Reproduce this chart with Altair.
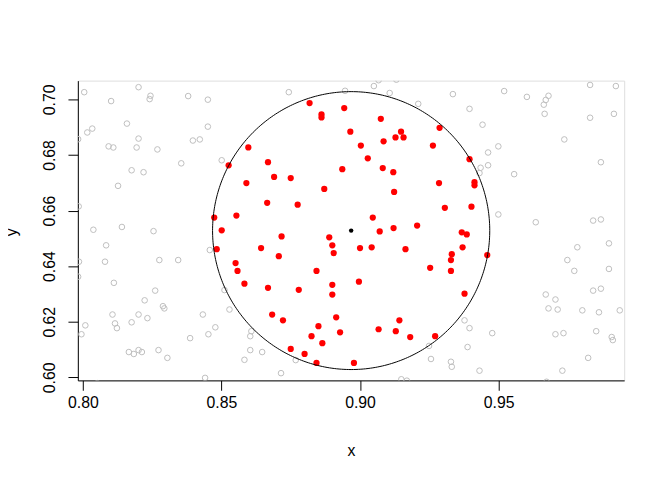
import altair as alt
import pandas as pd

# grey open circles (all points)
grey_x = [0.8005,0.8201,0.8102,0.8244,0.8241,0.8380,0.8451,0.8159,0.8034,0.8016,0.8451,0.7983,0.8201,0.8397,0.8422,0.8093,0.8110,0.8194,0.8269,0.8355,0.8176,0.8219,0.8127,0.7985,0.8038,0.8141,0.8255,
          0.8084,0.8458,0.7986,0.8080,0.8276,0.8344,0.7983,0.8112,0.8261,0.8223,0.8289,0.8294,0.8107,0.8201,0.8233,0.8433,0.8009,0.8116,0.8123,0.8176,0.7995,0.8478,0.8453,0.8387,0.8166,0.8184,0.8201,0.8213,0.8273,0.8305,0.8441,0.8052,
          0.8511,0.8529,0.8608,0.8604,0.8604,0.8647,0.8583,0.8768,0.8715,
          0.8743,0.8946,0.8501,
          0.9050,0.9067,0.9131,0.9107,0.9335,0.9210,0.9395,0.9442,0.9462,0.9462,0.9435,0.9431,
          0.9377,0.9395,0.9477,0.9249,0.9388,0.9256,0.9328,0.9331,0.9431,0.9149,0.9169,
          0.9520,0.9602,0.9680,0.9670,0.9663,0.9666,0.9830,0.9923,0.9830,0.9916,0.9737,0.9499,0.9869,0.9556,0.9499,0.9634,0.9841,0.9869,
          0.9784,0.9898,0.9748,0.9773,0.9898,0.9841,0.9869,0.9670,0.9705,0.9680,0.9713,0.9802,0.9862,0.9937,0.9705,0.9734,0.9852,0.9908,0.9912,0.9823,0.9730,0.9673]
grey_y = [0.7026,0.7044,0.6994,0.7013,0.7001,0.7012,0.6999,0.6913,0.6895,0.6881,0.6902,0.6857,0.6859,0.6852,0.6856,0.6831,0.6827,0.6827,0.6820,0.6770,0.6745,0.6738,0.6689,0.6615,0.6531,0.6541,0.6526,
          0.6475,0.6458,0.6416,0.6416,0.6422,0.6422,0.6362,0.6340,0.6312,0.6277,0.6256,0.6248,0.6226,0.6226,0.6213,0.6226,0.6187,0.6194,0.6177,0.6198,0.6155,0.6180,0.6155,0.6141,0.6091,0.6084,0.6098,0.6091,0.6098,0.6070,0.5998,0.5979,
          0.6314,0.6244,0.6166,0.6148,0.6098,0.6091,0.6063,0.6062,0.6015,
          0.7026,0.7031,0.6781,
          0.7048,0.7069,0.7071,0.7023,0.7019,0.6984,0.6966,0.6909,0.6809,0.6763,0.6754,0.6735,
          0.6205,0.6177,0.6159,0.6113,0.6109,0.6066,0.6056,0.6038,0.6024,0.5993,0.5988,
          0.7030,0.7009,0.7013,0.6998,0.6981,0.6948,0.7052,0.7048,0.6934,0.6948,0.6856,0.6831,0.6774,0.6731,0.6586,0.6558,0.6564,0.6568,
          0.6468,0.6482,0.6422,0.6383,0.6390,0.6312,0.6319,0.6298,0.6280,0.6248,0.6244,0.6241,0.6234,0.6241,0.6155,0.6159,0.6166,0.6145,0.6134,0.6070,0.6024,0.5984]

# red filled points (inside the circle)
red_x = [0.8818,0.8943,0.8861,0.8861,0.8965,0.8597,0.8526,0.8668,0.8936,0.8690,0.8750,0.8590,0.8871,0.8665,0.8775,0.8554,0.8474,
         0.8501,0.8717,0.8889,0.8483,0.8643,0.8900,0.8707,0.8905,0.8551,0.8558,0.8843,0.8583,0.8668,0.8779,0.8900,0.8900,0.8683,0.8722,0.8914,0.8850,0.8928,0.8825,0.8864,0.8750,0.8800,0.8843,0.8978,
         0.9075,0.9287,0.9148,0.9128,0.9157,0.9085,0.9003,0.9263,0.9028,0.9395,0.9082,0.9120,0.9285,0.9413,0.9413,0.9123,0.9306,0.9402,0.9046,0.9206,0.9121,0.9071,0.9367,0.9385,
         0.9000,0.9042,0.9164,0.9370,0.9331,0.9459,0.9328,0.9253,0.9328,0.8996,0.9377,0.9142,0.9067,0.9129,0.9181,0.9271]
red_y = [0.6987,0.6969,0.6946,0.6935,0.6884,0.6827,0.6763,0.6774,0.6749,0.6721,0.6717,0.6699,0.6678,0.6628,0.6621,0.6582,0.6575,
         0.6529,0.6507,0.6504,0.6461,0.6465,0.6475,0.6436,0.6447,0.6411,0.6383,0.6383,0.6337,0.6322,0.6315,0.6333,0.6298,0.6226,0.6205,0.6216,0.6184,0.6162,0.6148,0.6123,0.6102,0.6084,0.6052,0.6052,
         0.6930,0.6898,0.6884,0.6863,0.6863,0.6849,0.6834,0.6834,0.6788,0.6785,0.6753,0.6738,0.6699,0.6702,0.6691,0.6667,0.6610,0.6614,0.6575,0.6546,0.6537,0.6525,0.6522,0.6514,
         0.6465,0.6468,0.6461,0.6468,0.6443,0.6440,0.6422,0.6394,0.6383,0.6344,0.6301,0.6205,0.6173,0.6166,0.6145,0.6148]

center_x = [0.8968]
center_y = [0.6528]
radius = 0.05

x_domain = [0.7982, 0.9953]
y_domain = [0.5989, 0.70675]
x_ticks = [0.80, 0.85, 0.90, 0.95]
y_ticks = [0.60, 0.62, 0.64, 0.66, 0.68, 0.70]

grey_df = pd.DataFrame({"x": grey_x, "y": grey_y})
red_df = pd.DataFrame({"x": red_x, "y": red_y})
center_df = pd.DataFrame({"x": center_x, "y": center_y})

FONT = "Liberation Sans"

xs = alt.Scale(domain=x_domain, nice=False, zero=False)
ys = alt.Scale(domain=y_domain, nice=False, zero=False)

xaxis = alt.Axis(values=x_ticks, format=".2f", title="x", grid=False,
                 tickSize=10, tickColor="black", domainColor="black",
                 labelColor="black", labelFont=FONT, labelFontSize=16,
                 labelPadding=4, labelFlush=False,
                 titleFont=FONT, titleFontSize=16, titleFontWeight="normal",
                 titleColor="black", titleX=276.5, titleY=76,
                 titleBaseline="alphabetic", titleAlign="center")
yaxis = alt.Axis(values=y_ticks, format=".2f", title="y", grid=False,
                 tickSize=10, tickColor="black", domainColor="black",
                 labelColor="black", labelFont=FONT, labelFontSize=16,
                 labelAngle=270, labelAlign="center", labelBaseline="alphabetic",
                 labelPadding=14, labelFlush=False,
                 titleFont=FONT, titleFontSize=16, titleFontWeight="normal",
                 titleColor="black", titleAngle=270, titleX=-62, titleY=153,
                 titleBaseline="alphabetic", titleAlign="center")

grey = alt.Chart(grey_df).mark_point(shape="circle", filled=False, color="#BEBEBE",
                                     size=32, strokeWidth=1, opacity=1, clip=True).encode(
    x=alt.X("x:Q", scale=xs, axis=xaxis),
    y=alt.Y("y:Q", scale=ys, axis=yaxis),
)

red = alt.Chart(red_df).mark_point(shape="circle", filled=True, color="#FF0000",
                                   size=40, opacity=1, clip=True).encode(
    x=alt.X("x:Q", scale=xs),
    y=alt.Y("y:Q", scale=ys),
)

circle = alt.Chart(alt.sequence(0, 361, 1, as_="t")).transform_calculate(
    cx=f"{center_x[0]} + {radius} * cos(datum.t * PI / 180)",
    cy=f"{center_y[0]} + {radius} * sin(datum.t * PI / 180)",
).mark_line(color="black", strokeWidth=1, clip=True).encode(
    x=alt.X("cx:Q", scale=xs),
    y=alt.Y("cy:Q", scale=ys),
    order="t:Q",
)

center = alt.Chart(center_df).mark_point(shape="circle", filled=True, color="black",
                                         size=20, opacity=1).encode(
    x=alt.X("x:Q", scale=xs),
    y=alt.Y("y:Q", scale=ys),
)

chart = alt.layer(grey, red, circle, center).properties(
    width=553, height=303.4,
    autosize=alt.AutoSizeParams(type="none"),
    padding={"left": 70.7, "top": 70.7, "right": 40.3, "bottom": 89.9},
).configure_view(stroke="black", strokeWidth=1).configure(background="white")

chart.save("out.html", embed_options={"renderer": "svg", "actions": False})
